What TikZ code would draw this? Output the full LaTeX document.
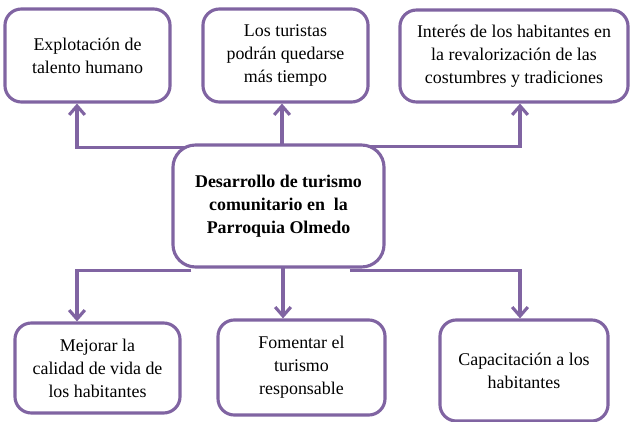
\documentclass[tikz,border=0pt]{standalone}
\usepackage{fontspec}
\setmainfont{Liberation Serif}
\usepackage{tikz}
\usetikzlibrary{calc,arrows.meta,backgrounds}
\definecolor{lila}{RGB}{128,100,162}
\tikzstyle{arrow} = [draw=lila,line width=2.1pt,-{Straight Barb[length=6pt,width=10.5pt]}]

\begin{document}
\begin{tikzpicture}[x=0.67pt,y=-0.67pt,
ideabox/.style={rectangle, rounded corners=11pt, draw=lila, fill=white, line width=2.1pt, align=center, font=\fontsize{12}{15.4}\selectfont},
mainbox/.style={ideabox, rounded corners=15pt, font=\fontsize{12}{15.4}\selectfont\bfseries},]
\useasboundingbox (0,0) rectangle (630,422);
%Nodes
\node[mainbox, minimum width=141.4pt, minimum height=81.7pt] (desa) at (278.5,206) {Desarrollo de turismo\\comunitario en~ la\\Parroquia Olmedo};
\node[ideabox, minimum width=110.6pt, minimum height=62.3pt] (expl) at (87.5,55.5) {Explotación de\\talento humano};
\node[ideabox, minimum width=110.6pt, minimum height=62.3pt] (tur) at (285.5,55.5) {Los turistas\\podrán quedarse\\más tiempo};
\node[ideabox, minimum width=152.8pt, minimum height=61.6pt] (inter) at (514,56) {Interés de los habitantes en\\la revalorización de las\\costumbres y tradiciones};
\node[ideabox, minimum width=110.6pt, minimum height=60.3pt] (vida) at (97.5,368) {Mejorar la\\calidad de vida de\\los habitantes};
\node[ideabox, minimum width=111.9pt, minimum height=63.7pt] (fom) at (301.5,367.5) {Fomentar el\\turismo\\responsable};
\node[ideabox, minimum width=112.6pt, minimum height=67.7pt] (cap) at (524,370.5) {Capacitación a los\\habitantes};

%Lines
\begin{scope}[on background layer]
\draw[arrow] ($(desa.north west)+(20,4)$) -| ($(expl.south)+(-10.5,0)$);
\draw[arrow] ($(desa.north)+(3,6)$) -| ($(tur.south)+(-3.5,0)$);
\draw[arrow] ($(desa.north east)+(-20,3)$) -| ($(inter.south)+(6,0)$);
\draw[arrow] ($(desa.south west)+(20,2)$) -| ($(vida.north)+(-20.5,0)$);
\draw[arrow] ($(desa.south)+(5,-6)$) -| ($(fom.north)+(-18.5,0)$);
\draw[arrow] ($(desa.south east)+(-36,2)$) -| ($(cap.north)+(-4,0)$);
\end{scope}
\end{tikzpicture}
\end{document}
